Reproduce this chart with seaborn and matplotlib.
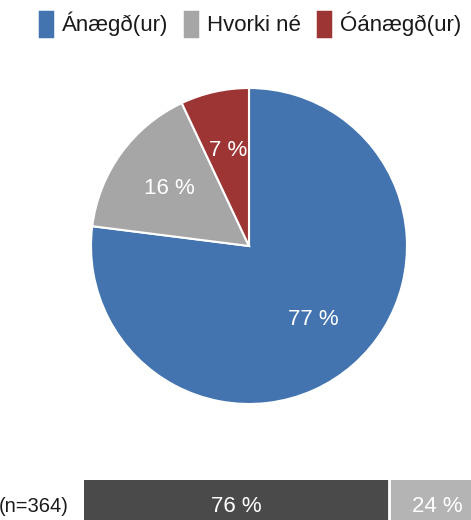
import matplotlib
matplotlib.use("Agg")
import matplotlib.pyplot as plt
import seaborn as sns
import pandas as pd
from matplotlib.patches import Patch

sns.set_theme(style="white")
plt.rcParams['font.family'] = ['Liberation Sans', 'DejaVu Sans']

# Data
pie_labels = ["Ánægð(ur)", "Hvorki né", "Óánægð(ur)"]
pie_values = [77, 16, 7]
pie_colors = ["#4474b0", "#a6a6a6", "#9d3535"]

bar_label = "(n=364)"
bar_values = [76, 24]
bar_colors = ["#4a4a4a", "#b4b4b4"]

W, H = 471, 520
fig = plt.figure(figsize=(W / 100, H / 100), dpi=100)

# Pie axes: center (249,246) px, radius 158 px
cx, cy, r = 249, 246, 158
ax = fig.add_axes([(cx - r) / W, (H - cy - r) / H, 2 * r / W, 2 * r / H])
wedges, texts = ax.pie(
    pie_values, colors=pie_colors, startangle=90, counterclock=False,
    labels=[f"{v} %" for v in pie_values], labeldistance=0.62,
    wedgeprops=dict(edgecolor="white", linewidth=1.5),
    textprops=dict(color="white", fontsize=16),
)
for t in texts:
    t.set_ha("center")
    t.set_va("center")
ax.set_xlim(-1, 1)
ax.set_ylim(-1, 1)
ax.set_aspect("equal")
ax.axis("off")

# Legend
handles = [Patch(facecolor=c, edgecolor=c, linewidth=2.5, joinstyle="round") for c in pie_colors]
fig.legend(handles, pie_labels, loc="upper right", bbox_to_anchor=(1.0 + 6 / W, 1.0 + 4 / H),
           ncol=3, frameon=False, fontsize=16, handlelength=0.55, handleheight=1.35,
           handletextpad=0.45, columnspacing=0.75, borderaxespad=0.3, labelcolor="#1a1a1a")

# Bottom stacked bar
bx0, bw = 84, 401
bax = fig.add_axes([bx0 / W, (H - 530) / H, bw / W, 50 / H])
df_total = pd.DataFrame({"cat": [bar_label], "val": [sum(bar_values)]})
df_first = pd.DataFrame({"cat": [bar_label], "val": [bar_values[0]]})
sns.barplot(data=df_total, x="val", y="cat", color=bar_colors[1], saturation=1,
            width=1.0, ax=bax, edgecolor="white", linewidth=0)
sns.barplot(data=df_first, x="val", y="cat", color=bar_colors[0], saturation=1,
            width=1.0, ax=bax, edgecolor="white", linewidth=0)
bax.axvline(bar_values[0] + 0.15, color="white", linewidth=2)
bax.set_xlim(0, 100)
bax.set_ylim(0.5, -0.5)
bax.axis("off")
yc = -0.5 + (506 - 480) / 50
bax.text(bar_values[0] / 2, yc, f"{bar_values[0]} %", color="white", fontsize=16,
         ha="center", va="center")
bax.text(bar_values[0] + bar_values[1] / 2, yc, f"{bar_values[1]} %", color="white",
         fontsize=16, ha="center", va="center")
fig.text(69 / W, (H - 506) / H, bar_label, ha="right", va="center", fontsize=14.5, color="#1a1a1a")

fig.savefig("out.png", dpi=100)
